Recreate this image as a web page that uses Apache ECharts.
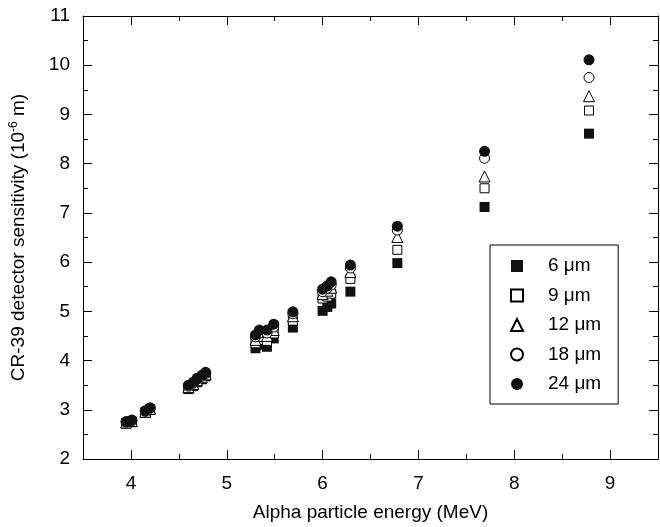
<!DOCTYPE html>
<html>
<head>
<meta charset="utf-8">
<title>CR-39 sensitivity</title>
<script src="https://cdn.jsdelivr.net/npm/echarts@6/dist/echarts.min.js"></script>
<style>
    body { margin: 0; background: #fff; }
    #chart { width: 660px; height: 527px; }
</style>
</head>
<body>
<div id="chart"></div>
<script>
    // alpha energies (MeV)
    let energies = [3.95, 4.01, 4.15, 4.20, 4.60, 4.65, 4.69, 4.74, 4.78, 5.30, 5.34, 5.42, 5.49, 5.69, 6.00, 6.05, 6.09, 6.29, 6.78, 7.69, 8.78];
    // sensitivity (10^-6 m) per removed layer
    let s6 = [2.72, 2.75, 2.94, 3.00, 3.42, 3.48, 3.56, 3.62, 3.68, 4.25, 4.32, 4.28, 4.45, 4.67, 5.01, 5.09, 5.16, 5.40, 5.98, 7.12, 8.61];
    let s9 = [2.73, 2.76, 2.95, 3.01, 3.44, 3.50, 3.58, 3.64, 3.70, 4.35, 4.42, 4.40, 4.55, 4.81, 5.26, 5.30, 5.36, 5.66, 6.25, 7.50, 9.08];
    let s12 = [2.74, 2.77, 2.96, 3.02, 3.46, 3.52, 3.60, 3.66, 3.72, 4.42, 4.50, 4.50, 4.62, 4.90, 5.35, 5.42, 5.48, 5.80, 6.51, 7.74, 9.37];
    let s18 = [2.75, 2.78, 2.97, 3.03, 3.48, 3.54, 3.62, 3.68, 3.74, 4.48, 4.56, 4.56, 4.68, 4.95, 5.40, 5.47, 5.54, 5.88, 6.65, 8.11, 9.75];
    let s24 = [2.76, 2.79, 2.98, 3.04, 3.50, 3.56, 3.64, 3.70, 3.76, 4.52, 4.62, 4.62, 4.74, 4.99, 5.45, 5.52, 5.60, 5.94, 6.73, 8.25, 10.11];
    let seriesNames = ['6 μm', '9 μm', '12 μm', '18 μm', '24 μm'];
    let xTicks = [4, 5, 6, 7, 8, 9];
    let xMinorTicks = [4.5, 5.5, 6.5, 7.5, 8.5];

    let font = 'Liberation Sans, Arial, Helvetica, sans-serif';

    function pairs(ys) {
        let out = [];
        for (let i = 0; i < energies.length; i++) {
            out.push([energies[i], ys[i]]);
        }
        return out;
    }

    function xAxisDef(pos, major) {
        return {
            type: 'value', position: pos, min: 3.5, max: 9.5,
            axisLine: { show: major, lineStyle: { color: '#000', width: 1 } },
            axisTick: {
                show: true, inside: true, length: major ? 9 : 5,
                customValues: major ? xTicks : xMinorTicks,
                lineStyle: { color: '#000', width: 1 }
            },
            axisLabel: {
                show: major && pos === 'bottom', customValues: xTicks,
                color: '#000', fontSize: 19, fontFamily: font, margin: 15
            },
            splitLine: { show: false },
            name: major && pos === 'bottom' ? 'Alpha particle energy (MeV)' : '',
            nameLocation: 'middle', nameGap: 44,
            nameTextStyle: { color: '#000', fontSize: 19, fontFamily: font }
        };
    }

    function yAxisDef(pos) {
        let left = pos === 'left';
        return {
            type: 'value', position: pos, min: 2, max: 11, interval: 1,
            axisLine: { show: true, lineStyle: { color: '#000', width: 1 } },
            axisTick: { show: true, inside: true, length: 9, lineStyle: { color: '#000', width: 1 } },
            minorTick: { show: true, splitNumber: 2, length: 5, lineStyle: { color: '#000', width: 1 } },
            axisLabel: { show: left, color: '#000', fontSize: 19, fontFamily: font, margin: 13 },
            splitLine: { show: false },
            name: left ? '{n|CR-39 detector sensitivity (10}{s|-6}{n| m)}' : '',
            nameLocation: 'middle', nameGap: 53, nameRotate: 90,
            nameTextStyle: {
                color: '#000', fontFamily: font,
                rich: {
                    n: { fontSize: 19, fontFamily: font, color: '#000' },
                    s: { fontSize: 12, fontFamily: font, color: '#000', padding: [0, 0, 10, 0] }
                }
            }
        };
    }

    let styles = [
        { symbol: 'rect', size: 10, itemStyle: { color: '#111', borderWidth: 0, opacity: 1 } },
        { symbol: 'rect', size: 9, itemStyle: { color: '#fff', borderColor: '#000', borderWidth: 1, opacity: 1 } },
        { symbol: 'triangle', size: 11, itemStyle: { color: '#fff', borderColor: '#000', borderWidth: 1, opacity: 1 } },
        { symbol: 'circle', size: 10, itemStyle: { color: '#fff', borderColor: '#000', borderWidth: 1, opacity: 1 } },
        { symbol: 'circle', size: 11, itemStyle: { color: '#111', borderWidth: 0, opacity: 1 } }
    ];
    let values = [s6, s9, s12, s18, s24];

    let series = [];
    for (let i = 0; i < values.length; i++) {
        series.push({
            name: seriesNames[i], type: 'scatter',
            xAxisIndex: 0, yAxisIndex: 0,
            symbol: styles[i].symbol, symbolSize: styles[i].size,
            itemStyle: styles[i].itemStyle,
            data: pairs(values[i]),
            z: 10 + i
        });
    }

    let chart = echarts.init(document.getElementById('chart'));
    chart.setOption({
        animation: false,
        backgroundColor: '#fff',
        grid: { left: 83, right: 2, top: 16, bottom: 66, containLabel: false },
        xAxis: [xAxisDef('bottom', true), xAxisDef('bottom', false), xAxisDef('top', true), xAxisDef('top', false)],
        yAxis: [yAxisDef('left'), yAxisDef('right')],
        legend: {
            orient: 'vertical', left: 490, top: 245,
            padding: [11, 17, 10, 20],
            itemGap: 9.5, itemWidth: 12, itemHeight: 12,
            borderColor: '#000', borderWidth: 1,
            backgroundColor: '#fff',
            textStyle: { color: '#000', fontSize: 19, fontFamily: font, lineHeight: 20, padding: [0, 0, 0, 20] },
            data: seriesNames
        },
        series: series
    });
</script>
</body>
</html>
